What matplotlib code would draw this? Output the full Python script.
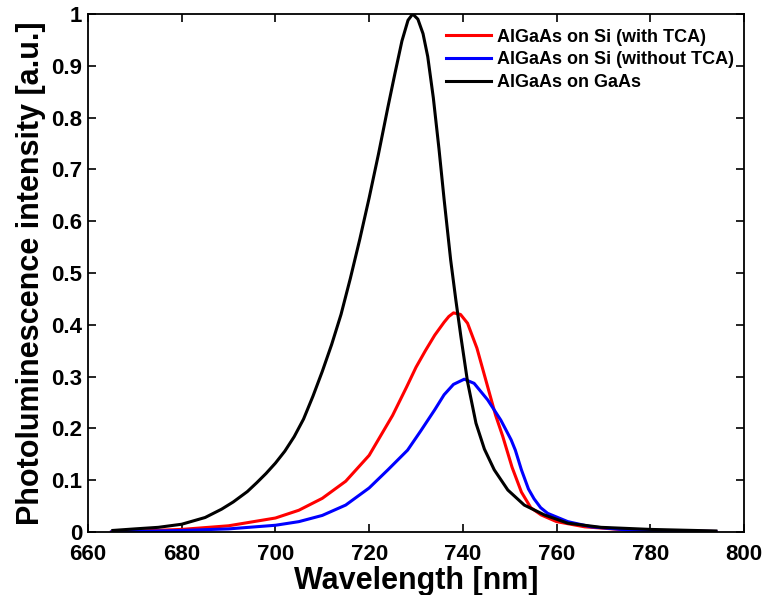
import matplotlib
matplotlib.use("Agg")
import matplotlib.pyplot as plt

plt.rcParams['font.family'] = ['Liberation Sans', 'DejaVu Sans']
plt.rcParams['font.weight'] = 'bold'

# wavelength [nm] / normalised PL intensity
wl_tca = [665, 680, 690, 700, 705, 710, 715, 720, 725, 728, 730, 732, 734, 736,
          737, 738, 739.5, 741, 743, 745, 747, 748.5, 750.5, 752.5, 754.5,
          756.7, 760, 766, 775, 785, 794]
pl_tca = [0.0, 0.005, 0.012, 0.027, 0.042, 0.065, 0.098, 0.148, 0.225, 0.28,
          0.318, 0.35, 0.38, 0.405, 0.416, 0.423, 0.42, 0.403, 0.355, 0.29,
          0.225, 0.185, 0.125, 0.077, 0.047, 0.033, 0.02, 0.01, 0.004, 0.002,
          0.001]

wl_notca = [665, 680, 690, 700, 705, 710, 715, 720, 724, 728.2, 731, 734, 736,
            738, 740.3, 742.4, 745.3, 748.1, 750.3, 751.2, 752.5, 754, 755.2,
            756.6, 758.1, 762.4, 767.4, 775, 785, 794]
pl_notca = [0.0, 0.003, 0.006, 0.013, 0.02, 0.032, 0.052, 0.085, 0.12, 0.158,
            0.195, 0.236, 0.265, 0.285, 0.295, 0.287, 0.255, 0.216, 0.178,
            0.158, 0.12, 0.083, 0.064, 0.047, 0.036, 0.02, 0.01, 0.004, 0.002,
            0.001]

wl_gaas = [665.3, 670, 675, 680, 685, 688.5, 691, 694, 696, 698, 700, 702,
           704, 706, 708, 710, 712, 714, 716, 718, 720, 722, 724, 725.5, 727,
           728.3, 729.3, 730.4, 731.5, 732.5, 733.7, 734.9, 736, 737.4, 738.5,
           739.6, 741, 742.8, 744.6, 746.7, 749.6, 753.1, 757.4, 762.4, 769.5,
           780, 794]
pl_gaas = [0.003, 0.006, 0.009, 0.015, 0.028, 0.044, 0.058, 0.078, 0.095,
           0.113, 0.133, 0.156, 0.184, 0.218, 0.262, 0.31, 0.362, 0.42, 0.49,
           0.565, 0.645, 0.73, 0.82, 0.885, 0.948, 0.988, 1.0, 0.99, 0.962,
           0.918, 0.838, 0.74, 0.642, 0.525, 0.448, 0.376, 0.29, 0.21, 0.16,
           0.12, 0.081, 0.052, 0.033, 0.017, 0.009, 0.005, 0.002]

labels = ['AlGaAs on Si (with TCA)', 'AlGaAs on Si (without TCA)', 'AlGaAs on GaAs']

fig = plt.figure(figsize=(7.66, 5.95), dpi=100)
ax = fig.add_axes([88/766, 1-532/595, (744-88)/766, (532-14)/595])

ax.plot(wl_tca, pl_tca, color='#ff0000', lw=2.2, label=labels[0])
ax.plot(wl_notca, pl_notca, color='#0000ff', lw=2.2, label=labels[1])
ax.plot(wl_gaas, pl_gaas, color='black', lw=2.2, label=labels[2])

ax.set_xlim(660, 800)
ax.set_ylim(0, 1)
ax.set_xticks(range(660, 801, 20))
yt = [i/10 for i in range(11)]
ax.set_yticks(yt)
ax.set_yticklabels(['0'] + ['%.1f' % v for v in yt[1:-1]] + ['1'])
ax.tick_params(direction='in', top=True, right=True, length=6, width=1.2,
               labelsize=16, pad=4)
ax.tick_params(axis='x', pad=9)
for s in ax.spines.values():
    s.set_linewidth(1.3)

ax.set_xlabel('Wavelength [nm]', fontsize=22, fontweight='bold', labelpad=0)
ax.set_ylabel('Photoluminescence intensity [a.u.]', fontsize=22,
              fontweight='bold', labelpad=4)

ax.legend(loc='upper left', bbox_to_anchor=(0.545, 0.972), frameon=False,
          fontsize=13, handlelength=2.5, handletextpad=0.35,
          labelspacing=0.32, borderpad=0, borderaxespad=0)

plt.savefig('out.png', dpi=100)
